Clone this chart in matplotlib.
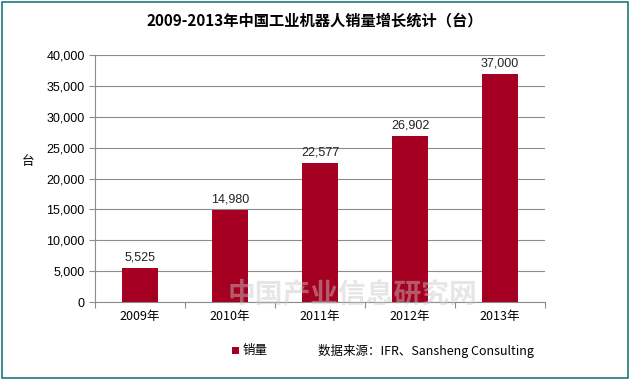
import matplotlib
matplotlib.use("Agg")
import matplotlib.pyplot as plt
from matplotlib.patches import Rectangle
from matplotlib.ticker import FuncFormatter, MultipleLocator

plt.rcParams['font.family'] = ['Noto Sans CJK SC', 'DejaVu Sans']

years = ['2009年', '2010年', '2011年', '2012年', '2013年']
sales = [5525, 14980, 22577, 26902, 37000]
bar_color = '#A50021'

fig = plt.figure(figsize=(6.3, 3.8), dpi=100)
fig.patch.set_facecolor('white')
fig.add_artist(Rectangle((0.003, 0.004), 0.994, 0.992, transform=fig.transFigure,
                         fill=False, edgecolor='#1F7A7A', linewidth=1.2))

ax = fig.add_axes([0.151, 0.205, 0.714, 0.650])
x = list(range(len(years)))
ax.bar(x, sales, width=0.40, color=bar_color, zorder=3)
for xi, v in zip(x, sales):
    ax.text(xi, v + 700, f'{v:,}', ha='center', va='bottom', fontsize=9,
            family=['Liberation Sans', 'DejaVu Sans'], color='#222222')

ax.set_xlim(-0.5, len(years) - 0.5)
ax.set_ylim(0, 40000)
ax.yaxis.set_major_locator(MultipleLocator(5000))
ax.yaxis.set_major_formatter(FuncFormatter(lambda v, p: f'{int(v):,}'))
ax.grid(axis='y', color='#8C8C8C', linewidth=0.8, zorder=0)
for s in ['top', 'right']:
    ax.spines[s].set_visible(False)
ax.spines['left'].set_color('#8C8C8C')
ax.spines['bottom'].set_color('#8C8C8C')
ax.tick_params(axis='y', length=4, color='#8C8C8C', labelsize=9)
for lbl in ax.get_yticklabels():
    lbl.set_family(['Liberation Sans', 'DejaVu Sans'])
ax.set_xticks([i - 0.5 for i in range(len(years) + 1)], minor=False)
ax.set_xticklabels([])
ax.set_xticks(x, minor=True)
ax.set_xticklabels(years, minor=True, fontsize=9)
ax.tick_params(axis='x', which='major', length=4, color='#8C8C8C', direction='out')
ax.tick_params(axis='x', which='minor', length=0, pad=6)

ax.set_ylabel('台', rotation=0, fontsize=9, va='center', ha='center')
ax.yaxis.set_label_coords(-0.149, 0.57)

fig.text(0.5, 0.945, '2009-2013年中国工业机器人销量增长统计（台）', ha='center', va='center',
         fontsize=11, fontweight='bold')

# faint watermark
fig.text(0.56, 0.225, '中国产业信息研究网', ha='center', va='center', fontsize=20,
         fontweight='bold', color='#C8C8C8', alpha=0.45, zorder=10)

# legend
fig.add_artist(Rectangle((0.369, 0.068), 0.011, 0.02, transform=fig.transFigure,
                         facecolor=bar_color, edgecolor='none'))
fig.text(0.385, 0.077, '销量', ha='left', va='center', fontsize=9)
fig.text(0.505, 0.077, '数据来源：IFR、Sansheng Consulting', ha='left', va='center', fontsize=9)

fig.savefig('out.png', dpi=100)
